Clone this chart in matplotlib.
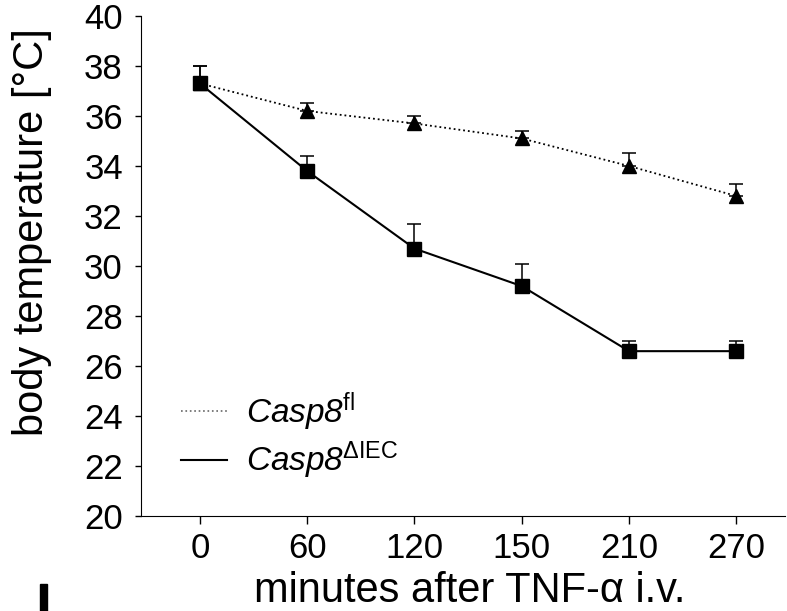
import matplotlib
matplotlib.use("Agg")
import matplotlib.pyplot as plt
from matplotlib.lines import Line2D
from matplotlib.patches import Rectangle

plt.rcParams['font.family'] = ['Liberation Sans', 'DejaVu Sans']
plt.rcParams['mathtext.fontset'] = 'custom'
plt.rcParams['mathtext.rm'] = 'Liberation Sans:italic'
plt.rcParams['mathtext.it'] = 'Liberation Sans:italic'
plt.rcParams['mathtext.sf'] = 'Liberation Sans'

minutes = ['0', '60', '120', '150', '210', '270']
fl_mean = [37.3, 36.2, 35.7, 35.1, 34.0, 32.8]
fl_err = [0.7, 0.3, 0.3, 0.3, 0.5, 0.5]
iec_mean = [37.3, 33.8, 30.7, 29.2, 26.6, 26.6]
iec_err = [0.7, 0.6, 1.0, 0.9, 0.4, 0.4]

fig = plt.figure(figsize=(7.87, 6.11), dpi=100)
ax = fig.add_axes([0.179, 0.155, 0.818, 0.819])
x = range(len(minutes))

ax.errorbar(x, fl_mean, yerr=[[0]*len(fl_err), fl_err], color='black', ls=':',
            lw=1.3, marker='^', ms=10, capsize=5, elinewidth=1.1, capthick=1.1)
ax.errorbar(x, iec_mean, yerr=[[0]*len(iec_err), iec_err], color='black', ls='-',
            lw=1.5, marker='s', ms=10, capsize=5, elinewidth=1.1, capthick=1.1)

ax.set_ylim(20, 40)
ax.set_yticks(range(20, 41, 2))
ax.set_xlim(-0.55, 5.45)
ax.set_xticks(list(x))
ax.set_xticklabels(minutes)
ax.tick_params(axis='both', labelsize=25, direction='out', width=1)
ax.tick_params(axis='x', length=6, pad=5)
ax.tick_params(axis='y', length=4.5, pad=8.5)
for s in ['top', 'right']:
    ax.spines[s].set_visible(False)
ax.set_ylabel('body temperature [°C]', fontsize=30)
ax.yaxis.set_label_coords(-0.138, 0.568)
ax.set_xlabel('minutes after TNF-α i.v.', fontsize=30)
ax.xaxis.set_label_coords(0.511, -0.11)

handles = [Line2D([], [], color='#666666', ls=':', lw=1.2),
           Line2D([], [], color='black', ls='-', lw=1.5)]
labels = [r'$Casp8^{\mathsf{fl}}$', r'$Casp8^{\mathsf{\Delta IEC}}$']
ax.legend(handles, labels, loc='upper left', bbox_to_anchor=(0.062, 0.252),
          frameon=False, fontsize=24, handlelength=1.4, handletextpad=0.55,
          labelspacing=0.2, borderpad=0, borderaxespad=0)

fig.patches.append(Rectangle((40/787, 0), 7/787, 27/611, transform=fig.transFigure,
                             color='black'))

fig.savefig('out.png', dpi=100)
